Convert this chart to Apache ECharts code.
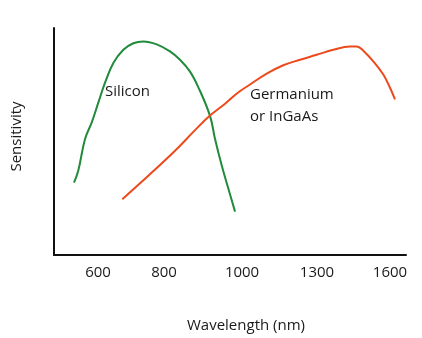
<!DOCTYPE html>
<html>
<head>
<meta charset="utf-8">
<script src="https://cdn.jsdelivr.net/npm/echarts@6/dist/echarts.min.js"></script>
<style>html,body{margin:0;padding:0;background:#fff}#c{width:422px;height:338px}</style>
</head>
<body>
<div id="c"></div>
<script>
// Tick labels along the (not-to-scale) wavelength axis, and where they sit in axis units
var xTickLabels = ['600', '800', '1000', '1300', '1600'];
var xTickValues = [0, 0.904, 1.973, 3.0, 4.0];

// Silicon curve: [axis position, relative sensitivity]
var siliconX = [-0.329,-0.270,-0.178,-0.086,0.004,0.096,0.210,0.347,0.484,0.621,0.804,0.986,1.123,1.260,1.370,1.534,1.603,1.695,1.785,1.877];
var siliconY = [31.9,37.2,51.1,58.4,67.1,75.9,84.6,90.4,93.3,94.1,92.8,89.7,86.0,80.8,74.2,61.3,51.1,39.4,29.3,19.1];

// Germanium / InGaAs curve
var germaniumX = [0.333,0.689,1.055,1.329,1.534,1.740,1.911,2.082,2.311,2.538,2.767,2.996,3.223,3.452,3.544,3.634,3.771,3.908,4.0,4.068];
var germaniumY = [24.6,34.9,45.9,55.0,61.4,66.6,71.4,75.1,79.9,83.6,86.0,88.2,90.4,91.9,91.9,90.0,85.3,79.5,73.7,68.6];

function zip(a, b) { return a.map(function (v, i) { return [v, b[i]]; }); }

var chart = echarts.init(document.getElementById('c'), null, { renderer: 'canvas' });
var font = '"Open Sans", sans-serif';
chart.setOption({
  animation: false,
  backgroundColor: '#ffffff',
  grid: { left: 54, right: 16, top: 28, bottom: 81, containLabel: false },
  xAxis: {
    type: 'value',
    min: -0.603,
    max: 4.219,
    name: 'Wavelength (nm)',
    nameLocation: 'middle',
    nameGap: 63,
    nameTextStyle: { fontFamily: font, fontSize: 15, color: '#1a1a1a', padding: [0, 0, 0, 32] },
    axisLine: { show: true, onZero: false, lineStyle: { color: '#111', width: 2 } },
    axisTick: { show: false },
    splitLine: { show: false },
    axisLabel: {
      customValues: xTickValues,
      formatter: function (v) {
        for (var i = 0; i < xTickValues.length; i++) {
          if (Math.abs(xTickValues[i] - v) < 1e-6) return xTickLabels[i];
        }
        return '';
      },
      fontFamily: font, fontSize: 15, color: '#1a1a1a', margin: 10
    }
  },
  yAxis: {
    type: 'value',
    min: 0,
    max: 100,
    name: 'Sensitivity',
    nameLocation: 'middle',
    nameRotate: 90,
    nameGap: 30,
    nameTextStyle: { fontFamily: font, fontSize: 15, color: '#1a1a1a', padding: [0, 0, 0, 10] },
    axisLine: { show: true, onZero: false, lineStyle: { color: '#111', width: 2 } },
    axisTick: { show: false },
    axisLabel: { show: false },
    splitLine: { show: false }
  },
  series: [
    {
      name: 'Silicon',
      type: 'line',
      data: zip(siliconX, siliconY),
      smooth: 0.4,
      showSymbol: false,
      lineStyle: { color: '#218b3b', width: 2 }
    },
    {
      name: 'Germanium or InGaAs',
      type: 'line',
      data: zip(germaniumX, germaniumY),
      smooth: 0.4,
      showSymbol: false,
      lineStyle: { color: '#ec4a1c', width: 2 }
    }
  ],
  graphic: [
    { type: 'text', left: 105, top: 84, style: { text: 'Silicon', font: '15px "Open Sans", sans-serif', fill: '#1a1a1a' } },
    { type: 'text', left: 250, top: 84, style: { text: 'Germanium\nor InGaAs', font: '15px "Open Sans", sans-serif', fill: '#1a1a1a', lineHeight: 22 } }
  ]
});
</script>
</body>
</html>
